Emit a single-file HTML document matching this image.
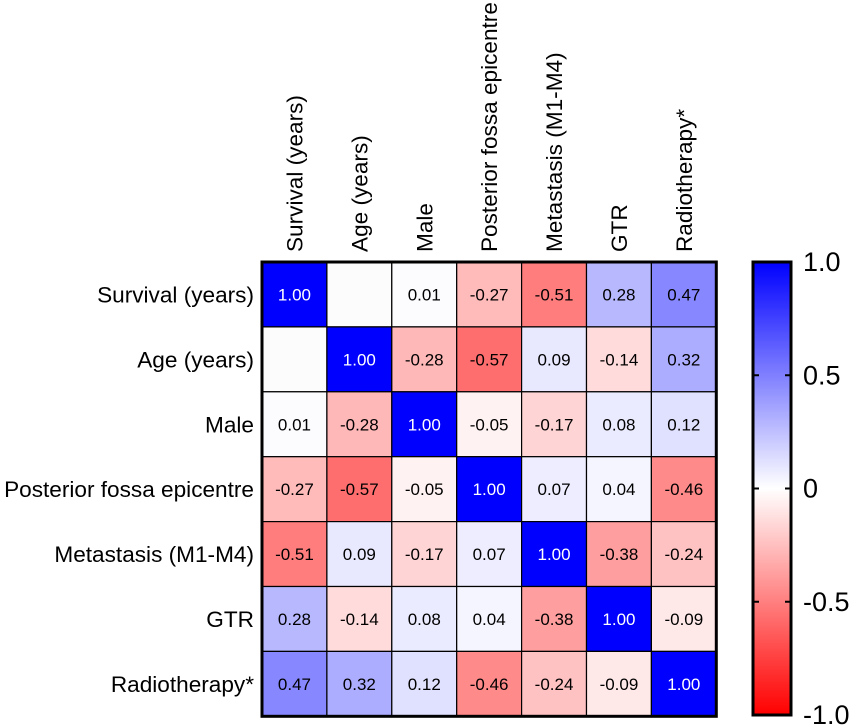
<!DOCTYPE html>
<html><head><meta charset="utf-8"><style>
body{margin:0;background:#fff;}
svg{display:block;font-family:"Liberation Sans",Arial,sans-serif;}
</style></head><body>
<svg id="chart" width="850" height="727" viewBox="0 0 850 727"></svg>
<script>
const labels = ["Survival (years)","Age (years)","Male","Posterior fossa epicentre","Metastasis (M1-M4)","GTR","Radiotherapy*"];
const row0 = [1.00, null, 0.01, -0.27, -0.51, 0.28, 0.47];
const row1 = [null, 1.00, -0.28, -0.57, 0.09, -0.14, 0.32];
const row2 = [0.01, -0.28, 1.00, -0.05, -0.17, 0.08, 0.12];
const row3 = [-0.27, -0.57, -0.05, 1.00, 0.07, 0.04, -0.46];
const row4 = [-0.51, 0.09, -0.17, 0.07, 1.00, -0.38, -0.24];
const row5 = [0.28, -0.14, 0.08, 0.04, -0.38, 1.00, -0.09];
const row6 = [0.47, 0.32, 0.12, -0.46, -0.24, -0.09, 1.00];
const rows = [row0,row1,row2,row3,row4,row5,row6];
const cbTicks = [1.0, 0.5, 0, -0.5, -1.0];
const cbTickLabels = ["1.0","0.5","0","-0.5","-1.0"];

const NS="http://www.w3.org/2000/svg";
const svg=document.getElementById('chart');
const gx0=262, gy0=262, cell=64.9, n=labels.length;
const xPos=i=>gx0+i*cell, yPos=i=>gy0+i*cell;
function color(v){
  if(v===null) return "#fcfcfc";
  const t=Math.min(1,Math.abs(v));
  const c=Math.round(255*(1-t));
  return v>=0?`rgb(${c},${c},255)`:`rgb(255,${c},${c})`;
}
function mk(tag,attrs,txt){const e=document.createElementNS(NS,tag);for(const k in attrs)e.setAttribute(k,attrs[k]);if(txt!==undefined)e.textContent=txt;svg.appendChild(e);return e;}

rows.forEach((r,i)=>{
  r.forEach((v,j)=>{
    const rect=mk('rect',{x:xPos(j),y:yPos(i),width:cell,height:cell,fill:color(v),stroke:'#000','stroke-width':1.2});
    
    
    if(v!==null){
      const t=mk('text',{x:xPos(j)+cell/2,y:yPos(i)+cell/2+6,'text-anchor':'middle','font-size':17,fill:Math.abs(v)>0.75?'#fff':'#000'},v.toFixed(2));
      
      
    }
  });
});
const border=mk('rect',{x:gx0,y:gy0,width:cell*n,height:cell*n,fill:'none',stroke:'#000','stroke-width':3});



labels.forEach((l,i)=>{
  const t=mk('text',{x:gx0-8,y:yPos(i)+cell/2+8,'text-anchor':'end','font-size':22.6},l);
  
  
  const cx=xPos(i)+cell/2+8, cy=gy0-10;
  const c=mk('text',{x:cx,y:cy,'font-size':22.6,transform:`rotate(-90 ${cx} ${cy})`},l);
  
  
});

// colorbar
const cbx=753, cby0=262, cbh=453, cbw=38;
const defs=mk('defs',{});
const g=document.createElementNS(NS,'linearGradient');g.setAttribute('id','cbg');g.setAttribute('x1',0);g.setAttribute('y1',0);g.setAttribute('x2',0);g.setAttribute('y2',1);
[[0,'#0000ff'],[0.5,'#ffffff'],[1,'#ff0000']].forEach(([o,c])=>{const s=document.createElementNS(NS,'stop');s.setAttribute('offset',o);s.setAttribute('stop-color',c);g.appendChild(s);});
defs.appendChild(g);
const cb=mk('rect',{x:cbx,y:cby0,width:cbw,height:cbh,fill:'url(#cbg)',stroke:'#000','stroke-width':3});


const cbY=v=>cby0+(1-v)/2*cbh;
cbTicks.forEach((v,k)=>{
  const y=cbY(v);
  mk('line',{x1:cbx,x2:cbx+6,y1:y,y2:y,stroke:'#000','stroke-width':2});
  mk('line',{x1:cbx+cbw-6,x2:cbx+cbw,y1:y,y2:y,stroke:'#000','stroke-width':2});
  const t=mk('text',{x:cbx+cbw+12,y:y+9,'font-size':27},cbTickLabels[k]);
  
  
});
</script>
</body></html>
